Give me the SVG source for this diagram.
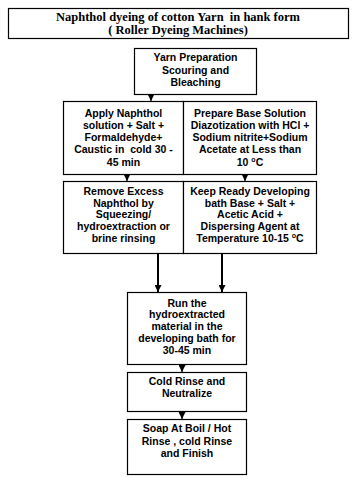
<svg xmlns="http://www.w3.org/2000/svg" width="357" height="492" viewBox="0 0 357 492">
<style>
.box{fill:#fff;stroke:#000;stroke-width:1.2}
.t{font-family:"Liberation Sans",Arial,sans-serif;font-weight:bold;font-size:10.5px;text-anchor:middle;fill:#000;white-space:pre}
.title{font-family:"Liberation Serif","Times New Roman",serif;font-weight:bold;font-size:12.5px;text-anchor:middle;fill:#000;white-space:pre}
.c{stroke:#000;stroke-width:1.2;fill:none}
.c2{stroke:#000;stroke-width:2;fill:none}
</style>
<defs>
<marker id="ah" markerUnits="userSpaceOnUse" markerWidth="8" markerHeight="7" refX="7" refY="3.5" orient="auto">
<path d="M0,0 L7,3.5 L0,7 Z" fill="#000"/>
</marker>
</defs>
<rect width="357" height="492" fill="#fff"/>
<g id="title">
<rect class="box" x="8.5" y="8.5" width="340" height="30"/>
<text class="title" x="178" y="21">Naphthol dyeing of cotton Yarn  in hank form</text>
<text class="title" x="178" y="34">( Roller Dyeing Machines)</text>
</g>
<g id="connectors">
<line class="c" x1="151" y1="94" x2="151" y2="101" marker-end="url(#ah)"/>
<line class="c" x1="127" y1="174" x2="127" y2="181" marker-end="url(#ah)"/>
<line class="c" x1="245" y1="174" x2="245" y2="181" marker-end="url(#ah)"/>
<line class="c2" x1="158" y1="253" x2="158" y2="292" marker-end="url(#ah)"/>
<line class="c2" x1="222" y1="253" x2="222" y2="292" marker-end="url(#ah)"/>
<line class="c" x1="182" y1="364" x2="182" y2="372" marker-end="url(#ah)"/>
<line class="c" x1="182" y1="411" x2="182" y2="419" marker-end="url(#ah)"/>
</g>
<g id="yarn">
<rect class="box" x="134.5" y="48.5" width="122" height="46"/>
<text class="t" x="195.5" y="61">Yarn Preparation</text>
<text class="t" x="195.5" y="74">Scouring and</text>
<text class="t" x="195.5" y="86">Bleaching</text>
</g>
<g id="applyNaphthol">
<rect class="box" x="63.5" y="101.5" width="120" height="73"/>
<text class="t" x="123.5" y="117">Apply Naphthol</text>
<text class="t" x="123.5" y="129">solution + Salt +</text>
<text class="t" x="123.5" y="141">Formaldehyde+</text>
<text class="t" x="123.5" y="153">Caustic in  cold 30 -</text>
<text class="t" x="123.5" y="166">45 min</text>
</g>
<g id="prepareBase">
<rect class="box" x="183.5" y="101.5" width="133" height="73"/>
<text class="t" x="250" y="117">Prepare Base Solution</text>
<text class="t" x="250" y="129">Diazotization with HCl +</text>
<text class="t" x="250" y="141">Sodium nitrite+Sodium</text>
<text class="t" x="250" y="153">Acetate at Less than</text>
<text class="t" x="250" y="166">10 <tspan font-size="7" dy="-4">o</tspan><tspan dy="4">C</tspan></text>
</g>
<g id="removeExcess">
<rect class="box" x="63.5" y="181.5" width="120" height="72"/>
<text class="t" x="123.5" y="195">Remove Excess</text>
<text class="t" x="123.5" y="207">Naphthol by</text>
<text class="t" x="123.5" y="218">Squeezing/</text>
<text class="t" x="123.5" y="230">hydroextraction or</text>
<text class="t" x="123.5" y="242">brine rinsing</text>
</g>
<g id="keepReady">
<rect class="box" x="183.5" y="181.5" width="133" height="72"/>
<text class="t" x="250" y="195">Keep Ready Developing</text>
<text class="t" x="250" y="207">bath Base + Salt +</text>
<text class="t" x="250" y="218">Acetic Acid +</text>
<text class="t" x="250" y="230">Dispersing Agent at</text>
<text class="t" x="250" y="242">Temperature 10-15 <tspan font-size="7" dy="-4">o</tspan><tspan dy="4">C</tspan></text>
</g>
<g id="run">
<rect class="box" x="127.5" y="292.5" width="119" height="72"/>
<text class="t" x="187" y="307">Run the</text>
<text class="t" x="187" y="318">hydroextracted</text>
<text class="t" x="187" y="330">material in the</text>
<text class="t" x="187" y="342">developing bath for</text>
<text class="t" x="187" y="354">30-45 min</text>
</g>
<g id="coldRinse">
<rect class="box" x="127.5" y="372.5" width="119" height="39"/>
<text class="t" x="187" y="385">Cold Rinse and</text>
<text class="t" x="187" y="397">Neutralize</text>
</g>
<g id="soap">
<rect class="box" x="127.5" y="419.5" width="119" height="55"/>
<text class="t" x="187" y="432">Soap At Boil / Hot</text>
<text class="t" x="187" y="445">Rinse , cold Rinse</text>
<text class="t" x="187" y="457">and Finish</text>
</g>
</svg>
